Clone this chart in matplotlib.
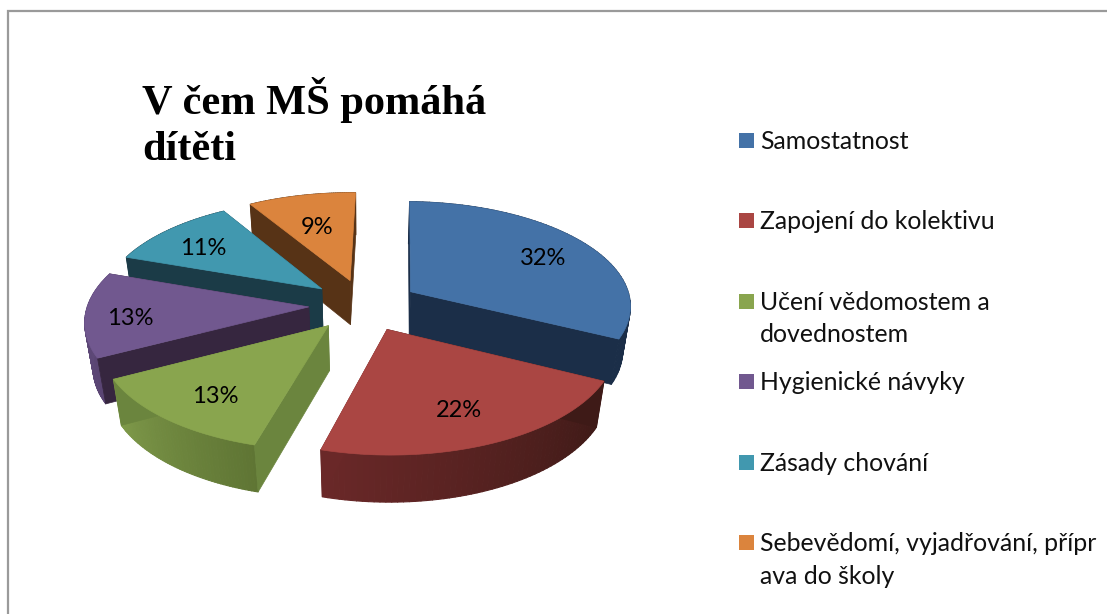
import numpy as np
import matplotlib
matplotlib.use('Agg')
import matplotlib.pyplot as plt
from matplotlib.collections import PolyCollection
from matplotlib.patches import Polygon, Rectangle

categories = ['Samostatnost', 'Zapojení do kolektivu', 'Učení vědomostem a\ndovednostem',
              'Hygienické návyky', 'Zásady chování', 'Sebevědomí, vyjadřování, přípr\nava do školy']
values = [32, 22, 13, 13, 11, 9]
value_labels = ['32%', '22%', '13%', '13%', '11%', '9%']
title = 'V čem MŠ pomáhá\ndítěti'

top_colors = ['#4472A7', '#AA4643', '#89A54E', '#71588F', '#4198AF', '#DB843D']
start_faces = ['#1B2E48', '#3E1A17', '#6B853E', '#36263F', '#1B3B47', '#573316']
end_faces = ['#1B2E48', '#6A2828', '#6B853E', '#36263F', '#1B3B47', '#573316']
rim_start = ['#1B2E48', '#3E1A17', '#5F7534', '#5A4573', '#1B3B47', '#573316']
rim_end = ['#1B2E48', '#6A2828', '#7F9A4A', '#5F4A7A', '#1B3B47', '#573316']

# perspective pie, all in pixels
cx, cy = 364, 305
radius_x, radius_y = 221, 104
height = 46
persp_y, persp_z = 0.121, 0.03
explode = 0.25
rotation = np.radians(1.2)
label_r = [0.76, 0.7, 0.72, 0.8, 0.76, 0.66]
label_dy = 5


def project(X, Y, Z=0.0):
    s = 1 / (1 + persp_y * np.asarray(Y) + persp_z * Z)
    return cx + radius_x * np.asarray(X) * s, cy - s * (radius_y * np.asarray(Y) - height * Z)


def blend(c1, c2, t):
    a = np.array(matplotlib.colors.to_rgb(c1))
    b = np.array(matplotlib.colors.to_rgb(c2))
    return tuple(a + (b - a) * t)


fig = plt.figure(figsize=(11.07, 6.14), dpi=100)
ax = fig.add_axes([0, 0, 1, 1])
ax.set_xlim(0, 1107)
ax.set_ylim(614, 0)
ax.axis('off')

# frame of the chart
ax.plot([8, 8, 1107], [614, 11, 11], color='#9a9a9a', lw=1.6, solid_joinstyle='miter')

edges = np.concatenate([[0], np.cumsum(values)]) / np.sum(values) * 2 * np.pi + rotation
order = [5, 4, 3, 2, 0, 1]

for i in order:
    t = np.linspace(edges[i], edges[i + 1], 60)
    mid = (edges[i] + edges[i + 1]) / 2
    ox, oy = explode * np.sin(mid), explode * np.cos(mid)
    rx, ry = ox + np.sin(t), oy + np.cos(t)

    # outer wall
    xt, yt = project(rx, ry, 0)
    xb, yb = project(rx, ry, 1)
    quads = []
    cols = []
    for k in range(len(t) - 1):
        quads.append([(xt[k], yt[k]), (xt[k + 1], yt[k + 1]), (xb[k + 1], yb[k + 1]), (xb[k], yb[k])])
        cols.append(blend(rim_start[i], rim_end[i], k / (len(t) - 2)))
    ax.add_collection(PolyCollection(quads, facecolors=cols, edgecolors=cols, linewidths=0.8))

    # cut faces
    ax0, ay0 = project(ox, oy, 0)
    ax1, ay1 = project(ox, oy, 1)
    for k, col in [(0, start_faces[i]), (-1, end_faces[i])]:
        pts = [(ax0, ay0), (xt[k], yt[k]), (xb[k], yb[k]), (ax1, ay1)]
        ax.add_patch(Polygon(pts, closed=True, facecolor=col, edgecolor=col, lw=0.5))

    # top
    pts = [(ax0, ay0)] + list(zip(xt, yt))
    ax.add_patch(Polygon(pts, closed=True, facecolor=top_colors[i], edgecolor=top_colors[i], lw=0.5))

    lx, ly = project(ox + label_r[i] * np.sin(mid), oy + label_r[i] * np.cos(mid), 0)
    ax.text(lx, ly + label_dy, value_labels[i], fontsize=17, family='Lato', color='black',
            ha='center', va='center', zorder=10)

ax.text(142, 123, title, family='Liberation Serif', fontweight='bold', fontsize=30.5,
        color='black', ha='left', va='center', linespacing=1.27)

# legend
legend_y = 133
legend_step = 80.4
for i, name in enumerate(categories):
    y = legend_y + i * legend_step
    ax.add_patch(Rectangle((739, y), 15, 15, facecolor=top_colors[i], edgecolor='none'))
    ax.text(760, y - 3, name, family='Lato', fontsize=17.9, color='#111111', ha='left', va='top',
            linespacing=1.5)

fig.savefig('out.png', dpi=100)
